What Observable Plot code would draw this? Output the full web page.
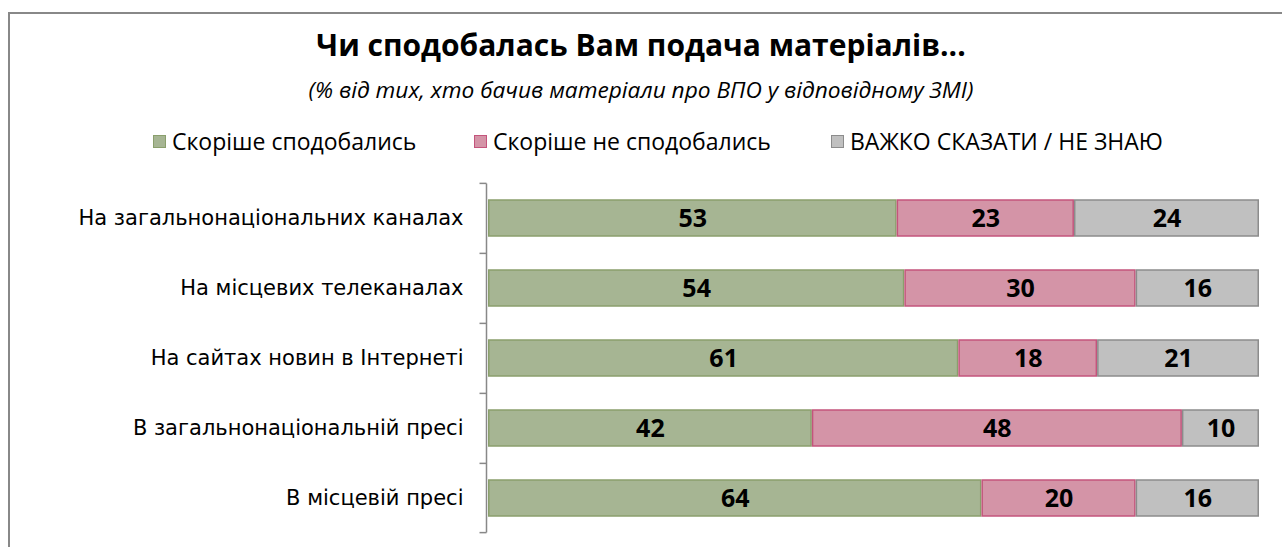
<!DOCTYPE html>
<html><head><meta charset="utf-8">
<script src="https://cdn.jsdelivr.net/npm/d3@7"></script>
<script src="https://cdn.jsdelivr.net/npm/@observablehq/plot@0.6"></script>
<style>
body{margin:0;background:#fff;font-family:"Open Sans",sans-serif;}
#wrap{position:relative;width:1282px;height:547px;overflow:hidden;}
#frame{position:absolute;left:8px;top:12px;width:1400px;height:700px;border-left:2px solid #888;border-top:2px solid #888;}
#title{position:absolute;top:23px;left:0;width:1282px;text-align:center;font-weight:bold;font-size:30px;line-height:44px;color:#000;}
#sub{position:absolute;top:74px;left:0;width:1282px;text-align:center;font-style:italic;font-size:22.7px;line-height:32px;color:#000;}
.leg{position:absolute;top:125px;font-size:23px;line-height:32px;white-space:nowrap;display:flex;align-items:center;}
.sw{width:13px;height:13px;margin-right:6px;box-sizing:border-box;border:1.5px solid;}
#chart{position:absolute;left:0;top:160px;}
</style></head>
<body><div id="wrap"><div id="frame"></div>
<div id="title"></div><div id="sub"></div><div id="legend"></div><div id="chart"></div></div>
<script>
const title = "Чи сподобалась Вам подача матеріалів...";
const subtitle = "(% від тих, хто бачив матеріали про ВПО у відповідному ЗМІ)";
const categories = ["На загальнонаціональних каналах","На місцевих телеканалах","На сайтах новин в Інтернеті","В загальнонаціональній пресі","В місцевій пресі"];
const series = ["Скоріше сподобались","Скоріше не сподобались","ВАЖКО СКАЗАТИ / НЕ ЗНАЮ"];
const liked = [53,54,61,42,64];
const disliked = [23,30,18,48,20];
const unsure = [24,16,21,10,16];
const fills = ["#a6b593","#d494a7","#c0c0c0"];
const strokes = ["#8a9f6c","#c4547c","#8c8c8c"];
const legendLeft = [153,474,831];

document.getElementById("title").textContent = title;
document.getElementById("sub").textContent = subtitle;
const leg = document.getElementById("legend");
series.forEach((s,i)=>{
  const d=document.createElement("div");d.className="leg";d.style.left=legendLeft[i]+"px";
  const sw=document.createElement("div");sw.className="sw";sw.style.background=fills[i];sw.style.borderColor=strokes[i];
  d.appendChild(sw);d.appendChild(document.createTextNode(s));leg.appendChild(d);
});

const vals=[liked,disliked,unsure];
const data=[];
series.forEach((s,si)=>categories.forEach((c,ci)=>data.push({cat:c,series:s,value:vals[si][ci]})));

const boundaryTicks = (index, scales, values, dims) => {
  const g = d3.create("svg:g");
  const y = scales.y; const bw = y.bandwidth(); const step = bw/(1-0.48);
  const xs = dims.marginLeft - 1.5;
  const bounds = categories.map(c=>y(c)-0.24*step);
  bounds.push(y(categories[categories.length-1])+bw+0.24*step);
  g.append("line").attr("x1",xs).attr("x2",xs).attr("y1",bounds[0]).attr("y2",bounds[bounds.length-1]).attr("stroke","#888").attr("stroke-width",1.5);
  bounds.forEach(b=>g.append("line").attr("x1",xs-7).attr("x2",xs).attr("y1",b).attr("y2",b).attr("stroke","#888").attr("stroke-width",1.5));
  return g.node();
};

const chart = Plot.plot({
  width:1282, height:387,
  marginLeft:488, marginRight:23, marginTop:21, marginBottom:12,
  x:{domain:[0,100], axis:null},
  y:{domain:categories, paddingInner:0.48, paddingOuter:0.24, label:null, axis:null},
  color:{domain:series, range:fills},
  style:{fontFamily:"Open Sans, sans-serif", fontSize:"16px", color:"#000"},
  marks:[
    Plot.barX(data, Plot.stackX({x:"value", y:"cat", fill:"series", stroke:d=>strokes[series.indexOf(d.series)], strokeWidth:1.5, insetLeft:0.75, insetRight:0.75})),
    Plot.text(data, Plot.stackX({x:"value", y:"cat", z:"series", text:d=>String(d.value), fontWeight:"bold", fontSize:25, fill:"#000"})),
    Plot.axisY({tickSize:0, tickPadding:25, fontSize:21, fontFamily:"DejaVu Sans", fill:"#000"}),
    boundaryTicks
  ]
});
document.getElementById("chart").appendChild(chart);
</script></body></html>
